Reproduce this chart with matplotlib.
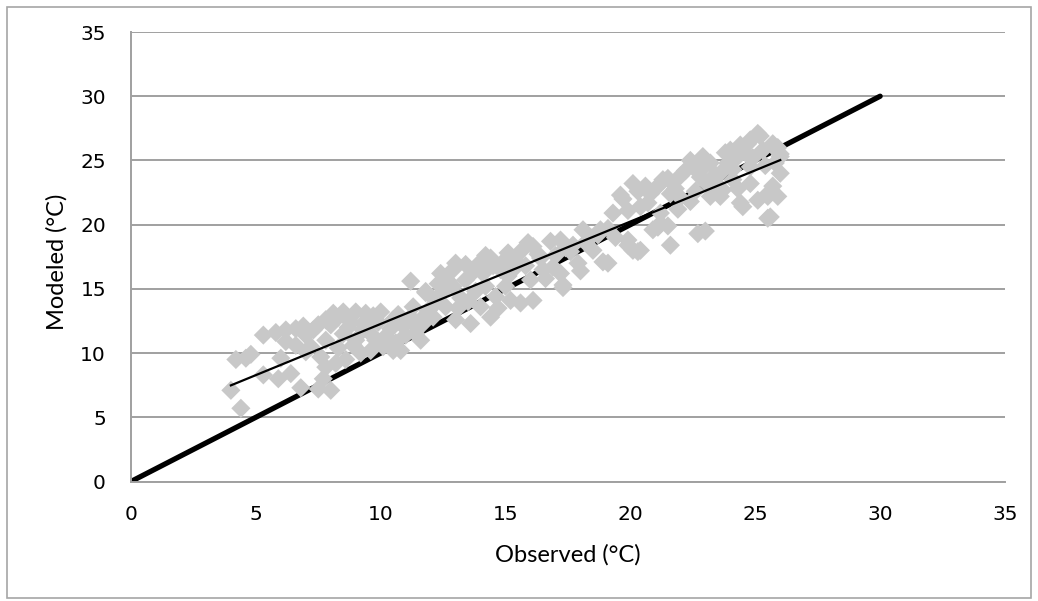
import numpy as np
import matplotlib
matplotlib.use('Agg')
import matplotlib.pyplot as plt
from matplotlib.patches import Rectangle

# observed vs modeled temperatures
obs_low = [4.2, 4.6, 4.0, 4.4, 5.3, 5.3, 6.0, 5.9, 6.4, 6.8, 6.2, 6.6, 7.0, 6.2, 7.2, 7.6,
           7.8, 8.1, 8.5, 9.0, 9.4, 10.0, 7.8, 8.5, 9.0, 9.6, 10.2, 7.8, 8.2, 8.6, 7.7, 9.2,
           9.6, 10.1, 10.6, 10.9, 11.3, 11.4, 11.7, 11.2, 11.8, 10.5, 8.0, 7.5,
           7.3, 8.0, 8.8, 9.3, 9.9, 10.5, 8.3, 8.9, 9.3, 10.4, 7.0, 6.6, 11.0, 11.6, 10.8,
           8.3, 9.7, 10.7, 7.5, 8.7, 11.2, 9.8, 5.8, 6.9, 4.8]
mod_low = [9.5, 9.6, 7.1, 5.7, 11.4, 8.3, 9.6, 8.0, 8.4, 7.3, 11.8, 11.9, 11.4, 10.9, 10.5, 9.7,
           12.6, 13.1, 13.2, 13.2, 13.1, 13.2, 11.0, 11.5, 11.0, 11.5, 11.3, 8.9, 9.2, 9.5, 8.0, 10.0,
           10.2, 10.5, 10.8, 12.1, 13.6, 12.1, 12.3, 15.6, 14.7, 10.2, 7.1, 7.2,
           11.8, 12.2, 12.4, 12.3, 12.4, 12.6, 10.4, 10.6, 11.8, 11.9, 10.1, 10.6, 11.4, 11.0, 10.2,
           12.8, 12.9, 13.0, 12.2, 12.0, 12.8, 11.0, 11.6, 12.1, 9.9]

obs_mid = [11.8, 12.4, 12.9, 13.4, 14.0, 14.4, 15.1, 15.6, 16.1, 16.8, 17.2, 17.7, 18.1, 18.7,
           19.1, 18.9, 19.9, 20.1, 17.3, 17.9, 16.1, 15.6, 15.2, 16.0, 15.1, 14.2, 14.4, 14.0,
           13.6, 13.0, 12.6, 12.1, 11.6, 12.2, 12.9, 13.4, 14.1, 14.8, 15.3, 16.5, 16.9, 17.2,
           18.5, 11.4, 17.3, 19.9, 20.3, 21.6, 21.1, 22.7,
           12.5, 13.2, 13.8, 14.6, 15.0, 15.8, 16.4, 17.0, 17.6, 18.2, 13.1, 12.0, 14.7, 16.6,
           18.0, 19.4,
           12.7, 13.7, 14.5, 15.4, 16.3, 17.4, 18.4, 11.9, 13.5, 12.3, 14.9,
           13.0, 14.2, 15.9]
mod_mid = [14.8, 16.2, 16.5, 16.9, 17.1, 17.4, 17.8, 17.9, 18.3, 18.7, 18.8, 18.4, 19.6, 19.2,
           19.7, 17.1, 18.4, 18.0, 15.3, 17.0, 14.1, 13.9, 14.1, 15.7, 16.0, 15.2, 12.8, 13.6,
           12.3, 12.6, 13.6, 12.8, 12.6, 14.1, 15.2, 15.7, 16.2, 16.5, 16.5, 16.5, 16.7, 16.2,
           18.0, 11.5, 15.1, 18.8, 17.9, 18.4, 19.8, 19.3,
           14.8, 14.3, 14.8, 14.4, 15.2, 16.8, 17.4, 17.6, 17.9, 18.6, 13.5, 13.5, 13.5, 15.8,
           16.4, 19.0,
           15.6, 16.3, 16.8, 17.2, 17.7, 18.2, 19.0, 13.3, 14.0, 15.4, 17.1,
           17.0, 17.6, 18.6]

obs_high = [19.1, 23.0, 25.5, 19.6, 20.1, 19.3, 19.9, 20.4, 21.1, 21.5, 21.2, 21.5, 20.9, 22.0,
            22.4, 22.4, 22.8, 23.2, 23.2, 23.7, 24.1, 24.5, 25.1, 24.7, 25.2, 25.7, 26.0, 25.7,
            25.5, 24.8, 24.3, 23.6, 26.0, 18.8, 24.8, 25.1, 25.7, 26.0, 25.5, 25.6, 24.4, 21.2,
            20.7, 21.3, 23.9, 24.1, 23.6, 24.8, 20.4,
            20.8, 21.8, 22.6, 23.0, 23.5, 24.3, 24.9, 25.4, 25.9, 22.2, 21.9, 19.7, 20.3, 22.0,
            22.5, 23.0, 24.0, 24.6, 25.3, 22.8, 21.6, 23.4, 25.8, 20.6,
            22.9, 23.8, 24.4, 25.9]
mod_high = [17.0, 19.5, 20.5, 22.3, 23.2, 20.9, 21.1, 21.4, 23.0, 23.6, 20.9, 19.9, 19.6, 22.1,
            25.0, 21.8, 23.7, 24.8, 22.2, 22.7, 24.3, 21.4, 21.9, 26.3, 26.9, 26.1, 24.0, 23.0,
            22.4, 23.2, 25.3, 24.0, 25.5, 19.6, 26.6, 27.1, 26.3, 25.3, 22.2, 20.6, 21.7, 20.1,
            21.7, 23.5, 24.8, 23.5, 22.2, 24.5, 18.0,
            22.4, 22.8, 22.6, 23.3, 23.0, 22.8, 25.2, 24.6, 22.2, 24.2, 21.2, 22.0, 22.6, 23.8,
            24.5, 25.0, 25.8, 25.6, 25.8, 24.2, 22.4, 23.9, 24.8, 23.0,
            25.3, 25.6, 26.2, 26.0]

# 1:1 reference line
one_to_one = [0, 30]

observed = np.array(obs_low + obs_mid + obs_high)
modeled = np.array(mod_low + mod_mid + mod_high)

fig = plt.figure(figsize=(10.38, 6.01), dpi=100)
fig.patch.set_facecolor('white')
ax = fig.add_axes([131 / 1038, 1 - 481.5 / 601, (1005 - 131) / 1038, (481.5 - 32) / 601])

grid_col = '#A0A0A0'
ax.plot(one_to_one, one_to_one, color='black', lw=3.8, solid_capstyle='round', zorder=2)
ax.scatter(observed, modeled, marker='D', s=95, color='#C8C8C8', edgecolors='none',
           linewidths=0, zorder=3)

# linear trend (least squares, like Excel's trendline)
k, b = np.polyfit(observed, modeled, 1)
tx = np.array([observed.min(), observed.max()])
ax.plot(tx, k * tx + b, color='black', lw=1.6, zorder=4)

ax.set_xlim(0, 35)
ax.set_ylim(0, 35)
ax.set_xticks(np.arange(0, 36, 5))
ax.set_yticks(np.arange(0, 36, 5))
ax.grid(True, axis='y', color=grid_col, lw=1.4, zorder=0)
ax.set_axisbelow(True)
for s in ['top', 'right']:
    ax.spines[s].set_visible(False)
for s in ['left', 'bottom']:
    ax.spines[s].set_color(grid_col)
    ax.spines[s].set_linewidth(1.4)
ax.tick_params(length=0, labelsize=14.5, labelcolor='black')
ax.tick_params(axis='y', pad=18)
ax.tick_params(axis='x', pad=17)
for lab in ax.get_xticklabels() + ax.get_yticklabels():
    lab.set_family('DejaVu Sans')

fig.text(568 / 1038, 1 - 555 / 601, 'Observed (°C)', ha='center', va='center',
         fontsize=17, family=['Lato', 'DejaVu Sans'])
fig.text(57 / 1038, 1 - 262 / 601, 'Modeled (°C)', ha='center', va='center',
         rotation=90, fontsize=17, family=['Lato', 'DejaVu Sans'])

fig.add_artist(Rectangle((7 / 1038, 3 / 601), (1031 - 7) / 1038, (596 - 5) / 601,
                         transform=fig.transFigure, fill=False, ec='#A6A6A6', lw=1.2))

fig.savefig('out.png', dpi=100, facecolor='white')
